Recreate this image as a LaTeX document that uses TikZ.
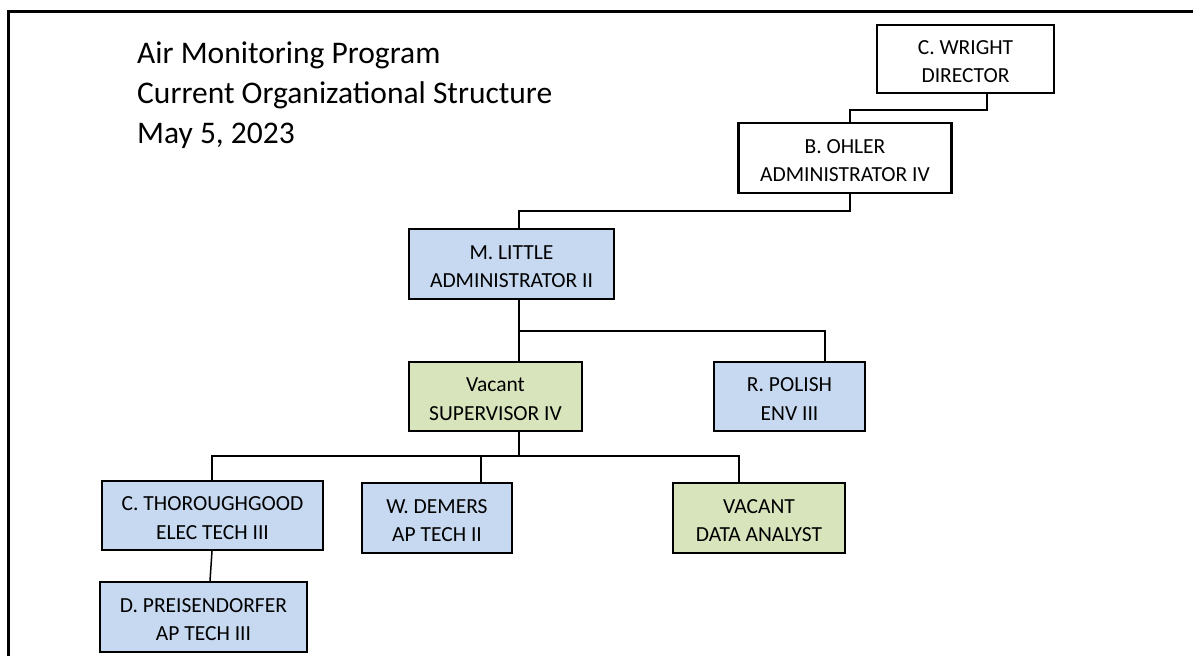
\documentclass[tikz,border=0pt]{standalone}
\usepackage{fontspec}
\setmainfont{Carlito}
\definecolor{boxblue}{HTML}{C6D9F1}
\definecolor{boxgreen}{HTML}{D8E4BC}
\begin{document}
\begin{tikzpicture}[x=1pt,y=-1pt,
  orgbox/.style={draw=black, line width=2.2pt, align=center, inner sep=0pt,
    text height=47pt, text depth=0pt,
    font=\fontsize{21.5}{28.5}\selectfont},
  bluebox/.style={orgbox, fill=boxblue},
  greenbox/.style={orgbox, fill=boxgreen},
  whitebox/.style={orgbox, fill=white},
  link/.style={draw=black, line width=1.5pt},
  titletext/.style={anchor=base west, inner sep=0pt, font=\fontsize{31.5}{40}\selectfont}]
\useasboundingbox (0,0) rectangle (1193,656);
% frame (top and left edges)
\draw[line width=3pt] (8,656) -- (8,11) -- (1193,11);
% title
\node[titletext] (title1) at (137,63) {Air Monitoring Program};
\node[titletext] (title2) at (137,103) {Current Organizational Structure};
\node[titletext] (title3) at (137,143) {May 5, 2023};
% boxes
\node[whitebox, minimum width=177pt, minimum height=68pt] (wright) at (965.5,59) {C. WRIGHT\\DIRECTOR};
\node[whitebox, minimum width=213pt, minimum height=70pt] (ohler) at (845,158) {B. OHLER\\ADMINISTRATOR IV};
\node[bluebox, minimum width=205pt, minimum height=70pt] (little) at (511.5,264) {M. LITTLE\\ADMINISTRATOR II};
\node[greenbox, minimum width=173pt, minimum height=69pt] (vacant) at (495.5,396.5) {Vacant\\SUPERVISOR IV};
\node[bluebox, minimum width=151pt, minimum height=69pt] (polish) at (789.5,396.5) {R. POLISH\\ENV III};
\node[bluebox, minimum width=221pt, minimum height=69pt] (thor) at (212.5,515.5) {C. THOROUGHGOOD\\ELEC TECH III};
\node[bluebox, minimum width=150pt, minimum height=70pt] (demers) at (437,518) {W. DEMERS\\AP TECH II};
\node[greenbox, minimum width=172pt, minimum height=70pt] (analyst) at (759,518) {VACANT\\DATA ANALYST};
\node[bluebox, minimum width=207pt, minimum height=70pt] (preis) at (203.5,617) {D. PREISENDORFER\\AP TECH III};
% connectors
\draw[link] ([xshift=21.5pt]wright.south) -- ++(0,16) -| ([xshift=5pt]ohler.north);
\draw[link] ([xshift=5pt]ohler.south) -- ++(0,17) -| ([xshift=7.5pt]little.north);
\draw[link] ([xshift=7.5pt]little.south) -- ([xshift=23.5pt]vacant.north);
\draw[link] ([xshift=7.5pt]little.south) ++(0,31) coordinate (branch) -| ([xshift=35.5pt]polish.north);
\draw[link] ([xshift=23.5pt]vacant.south) -- ++(0,24) coordinate (hub);
\draw[link] (hub) -| ([xshift=-0.5pt]thor.north);
\draw[link] (hub) -| ([xshift=44pt]demers.north);
\draw[link] (hub) -| ([xshift=-20pt]analyst.north);
\draw[link] ([xshift=-0.5pt]thor.south) -- ([xshift=6.5pt]preis.north);
\end{tikzpicture}
\end{document}
